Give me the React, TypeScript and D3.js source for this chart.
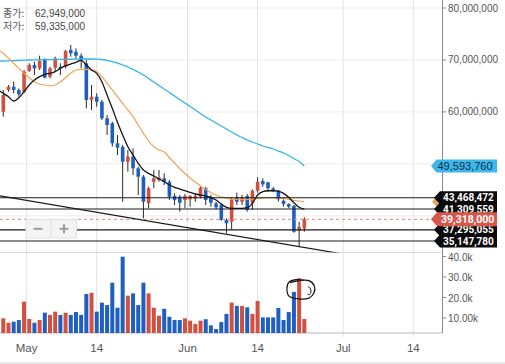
import React from "react";
import * as d3 from "d3";

// ---- data (prices in millions KRW, volume in thousands) ----
const candleStart = "2021-04-26T00:00:00Z";
const candleEnd = "2021-06-24T00:00:00Z";
const maStart = "2021-04-25T00:00:00Z";

const opens = [
  60.04, 64.22, 64.85, 64.22, 63.89, 67.87, 69.03, 68.39, 69.99, 66.78,
  68.51, 68.7, 68.7, 71.92, 71.59, 70.82, 69.36, 62.29, 62.93, 61.96,
  58.77, 57.81, 53.96, 53.3, 50.41, 51.38, 49.14, 47.53, 42.41, 46.56,
  46.89, 47.22, 46.56, 43.81, 43.68, 43.04, 43.18, 43.29, 43.68, 45.29,
  43.56, 42.41, 42.08, 39.19, 38.86, 43.56, 42.71, 43.81, 42.41, 44.83,
  46.7, 46.45, 45.26, 44.83, 42.91, 42.27, 41.94, 37.13, 37.59,
];
const highs = [
  64.22, 65.18, 65.81, 64.54, 68.07, 69.36, 69.66, 70.82, 70.32, 68.7,
  70.63, 69.36, 71.92, 72.88, 72.24, 71.28, 69.99, 65.18, 63.58, 62.29,
  59.4, 58.11, 55.55, 53.63, 52.67, 52.99, 49.45, 47.85, 45.6, 48.82,
  48.82, 48.18, 46.89, 44.33, 44.0, 44.2, 44.0, 44.2, 45.6, 45.6,
  44.0, 42.71, 42.41, 39.52, 43.56, 44.45, 44.0, 44.2, 45.1, 47.41,
  47.22, 46.56, 45.54, 44.97, 43.18, 42.41, 42.08, 38.86, 39.71,
];
const lows = [
  59.08, 63.89, 63.58, 62.93, 63.58, 67.74, 67.1, 68.07, 66.47, 66.47,
  67.74, 67.1, 68.39, 70.63, 70.18, 68.39, 60.69, 60.37, 61.0, 58.44,
  55.55, 53.3, 51.7, 42.71, 48.49, 47.85, 44.0, 39.52, 41.44, 45.29,
  46.56, 45.93, 43.04, 42.08, 40.79, 41.44, 41.75, 42.71, 43.37, 42.08,
  41.75, 41.25, 39.06, 36.63, 37.4, 42.08, 42.08, 40.79, 41.12, 44.45,
  45.6, 44.64, 44.58, 42.71, 41.75, 41.44, 36.75, 34.05, 36.94,
];
const closes = [
  63.25, 64.85, 64.22, 63.39, 67.74, 69.03, 68.39, 69.8, 66.58, 68.39,
  70.32, 68.39, 71.72, 71.28, 70.82, 69.99, 62.29, 62.93, 61.96, 58.77,
  57.48, 53.96, 53.11, 50.41, 51.38, 49.14, 47.53, 42.71, 45.29, 47.22,
  47.41, 46.56, 43.68, 43.04, 42.52, 43.81, 43.81, 43.81, 45.41, 43.04,
  42.52, 41.64, 39.19, 38.56, 43.18, 42.71, 43.56, 41.12, 44.83, 46.56,
  46.06, 45.29, 44.97, 43.18, 42.27, 41.75, 36.94, 37.9, 39.32,
];
const volumes = [
  9.85, 7.7, 8.2, 9.0, 17.95, 9.5, 7.7, 9.0, 12.6, 11.5,
  13.1, 11.5, 12.6, 11.5, 12.9, 11.5, 21.7, 22.3, 13.1, 17.5,
  16.3, 27.2, 15.0, 39.9, 20.9, 22.0, 16.3, 27.2, 22.0, 15.0,
  11.1, 14.5, 10.6, 9.0, 9.0, 9.85, 8.7, 7.1, 8.7, 9.4,
  6.4, 4.6, 8.0, 12.0, 17.5, 15.9, 15.9, 15.2, 12.0, 18.3,
  10.3, 10.3, 10.3, 14.9, 9.0, 12.9, 22.7, 29.4, 9.5,
];
// moving averages start one day earlier (Apr 25)
const maShort = [
  64.22,
  63.58, 62.93, 62.1, 62.73, 63.89, 65.18, 66.14, 66.78, 67.24, 67.43,
  67.74, 68.39, 68.89, 69.22, 69.55, 69.93, 69.03, 68.07, 67.43, 65.81,
  63.25, 60.69, 58.0, 55.55, 53.3, 51.7, 50.11, 48.82, 48.18, 47.66,
  47.08, 46.56, 45.93, 45.49, 45.16, 44.83, 44.52, 44.2, 44.0, 43.81,
  43.56, 43.04, 42.27, 41.64, 41.44, 41.44, 41.44, 41.56, 42.41, 44.0,
  44.64, 44.83, 44.83, 44.77, 44.33, 43.56, 42.52, 41.64, 41.31,
];
const maMid = [
  71.92,
  71.28, 70.32, 69.36, 68.39, 67.43, 66.58, 65.81, 65.37, 65.18, 65.04,
  65.18, 65.81, 66.58, 67.43, 68.07, 68.2, 68.2, 68.12, 67.74, 66.78,
  65.51, 64.22, 62.93, 61.66, 60.37, 59.08, 57.48, 55.88, 54.4, 53.3,
  52.67, 52.28, 51.22, 50.16, 49.11, 48.14, 47.28, 46.51, 45.74, 45.06,
  44.49, 44.0, 43.62, 43.43, 43.23, 43.14, 43.14, 43.14, 43.23, 43.33,
  43.43, 43.48, 43.48, 43.43, 43.33, 43.18, 42.98, 42.85, 42.71,
];
const maLong = [
  69.76,
  69.8, 69.84, 69.87, 69.91, 69.95, 69.99, 70.01, 70.03, 70.05, 70.07,
  70.09, 70.11, 70.13, 70.14, 70.16, 70.18, 70.18, 70.18, 70.16, 70.09,
  69.93, 69.7, 69.41, 69.03, 68.64, 68.16, 67.68, 67.1, 66.43, 65.76,
  65.08, 64.41, 63.73, 63.06, 62.39, 61.71, 61.04, 60.37, 59.69, 59.02,
  58.44, 57.86, 57.29, 56.71, 56.13, 55.55, 55.07, 54.59, 54.21, 53.82,
  53.44, 53.15, 52.86, 52.47, 52.09, 51.61, 51.03, 50.45, 49.59,
];
const maLongLabel = 49593760;
const levelLines = [43468472, 41309559, 37295055, 35147780];
const lastPrice = 39318000;
const trendPoints: [string, number][] = [
  ["2021-04-20T12:00:00Z", 44.77],
  ["2021-07-01T12:00:00Z", 32.55],
];
const priceGridTicks = [80, 70, 60, 50, 40];
const priceLabelTicks = [80, 70, 60]; // 50M / 40M labels sit under the price tags
const volumeTicks = [40, 30, 20, 10];
const volumeTickLabels = ["40.0k", "30.0k", "20.0k", "10.00k"];
const timeTicks: [string, string][] = [
  ["2021-05-01T00:00:00Z", "May"],
  ["2021-05-14T12:00:00Z", "14"],
  ["2021-06-01T00:00:00Z", "Jun"],
  ["2021-06-14T12:00:00Z", "14"],
  ["2021-07-01T00:00:00Z", "Jul"],
  ["2021-07-14T12:00:00Z", "14"],
];
const legendLabels = ["종가:", "저가:"];
const legendValues = [62949000, 59335000];
const annotationAnchor = { date: "2021-06-22T00:00:00Z", volume: 23.6 };

const RED = "#d2503f";
const BLUE = "#1f5fc2";
const fmt = d3.format(",");
const AXIS_FONT = "'Liberation Sans', Arial, sans-serif";

export default function App() {
  const W = 505;
  const H = 364;
  const plotR = 442.5;
  const mainB = 252.5;
  const volB = 333;

  const candleDates = d3.utcDay.range(new Date(candleStart), new Date(candleEnd));
  const maDates = d3.utcDay.range(new Date(maStart), new Date(candleEnd));

  const x = d3
    .scaleUtc()
    .domain([new Date("2021-05-01T00:00:00Z"), new Date("2021-07-01T00:00:00Z")])
    .range([26.65, 343.24]);
  const cx = (d: Date) => x(d3.utcHour.offset(d, 12));
  const y = d3.scaleLinear().domain([32.94, 81.54]).range([mainB, 0]);
  const yv = d3.scaleLinear().domain([2.68, 41.95]).range([volB, mainB]);

  const maLine = (vals: number[]) =>
    d3
      .line<number>()
      .x((_, i) => cx(maDates[i]))
      .y((v) => y(v))
      .curve(d3.curveMonotoneX)(vals) || "";

  const bodyW = 3.6;
  const volW = 4;

  const trendPath =
    d3
      .line<[string, number]>()
      .x((d) => x(new Date(d[0])))
      .y((d) => y(d[1]))(trendPoints) || "";

  const tag = (cy: number, tip: number, left: number, right: number, h: number) =>
    `M${tip},${cy} L${left},${cy - h / 2} L${right},${cy - h / 2} L${right},${cy + h / 2} L${left},${cy + h / 2} Z`;

  // hand-drawn annotation around a volume bar
  const ax = cx(new Date(annotationAnchor.date)) + 1.8;
  const ay = yv(annotationAnchor.volume);
  const loop: [number, number][] = [
    [-11, -7.5], [-2, -9.5], [8, -9.5], [13.5, -4], [13, 3], [8, 8],
    [-2, 8.8], [-12, 6], [-14, -1], [-12, -8], [-5, -10.5], [3, -10],
  ];
  const squiggle: [number, number][] = [
    [7, -3.5], [9.5, -1.5], [10, 2], [8.5, 4.5], [6.5, 4],
  ];
  const freehand = d3
    .line<[number, number]>()
    .x((d) => ax + d[0])
    .y((d) => ay + d[1])
    .curve(d3.curveCatmullRom.alpha(0.5));

  const orangeLast = maMid[maMid.length - 1] * 1e6;

  return (
    <svg
      width={W}
      height={H}
      style={{ position: "absolute", left: 0, top: 0, background: "#fff" }}
      fontFamily={AXIS_FONT}
    >
      <defs>
        <clipPath id="mainClip">
          <rect x={0} y={0} width={plotR} height={mainB} />
        </clipPath>
        <clipPath id="volClip">
          <rect x={0} y={mainB} width={plotR} height={volB - mainB} />
        </clipPath>
      </defs>
      <rect x={0} y={0} width={W} height={H} fill="#fff" />

      {/* grid */}
      {timeTicks.map(([d], i) => (
        <line key={"vg" + i} x1={x(new Date(d))} x2={x(new Date(d))} y1={0} y2={volB + 4} stroke="#e3e3e3" />
      ))}
      {priceGridTicks.map((p) => (
        <line key={"hg" + p} x1={0} x2={plotR} y1={y(p)} y2={y(p)} stroke="#ececec" />
      ))}
      <line x1={0} x2={plotR} y1={mainB} y2={mainB} stroke="#d8d8d8" />
      <line x1={0} x2={plotR} y1={volB} y2={volB} stroke="#b8b8b8" />

      <g clipPath="url(#mainClip)">
        {/* candles */}
        {candleDates.map((d, i) => {
          const up = closes[i] >= opens[i];
          const c = up ? RED : BLUE;
          const top = y(Math.max(opens[i], closes[i]));
          const bot = y(Math.min(opens[i], closes[i]));
          return (
            <g key={"c" + i}>
              <line x1={cx(d)} x2={cx(d)} y1={y(highs[i])} y2={y(lows[i])} stroke="#2a2a2a" strokeWidth={1} />
              <rect x={cx(d) - bodyW / 2} y={top} width={bodyW} height={Math.max(1, bot - top)} fill={c} />
            </g>
          );
        })}

        {/* moving averages */}
        <path d={maLine(maLong)} fill="none" stroke="#2cb7e6" strokeWidth={1.3} />
        <path d={maLine(maMid)} fill="none" stroke="#f0a352" strokeWidth={1.2} />
        <path d={maLine(maShort)} fill="none" stroke="#151515" strokeWidth={1.3} />

        {/* level lines */}
        {levelLines.map((p) => (
          <line key={"lv" + p} x1={0} x2={plotR} y1={y(p / 1e6)} y2={y(p / 1e6)} stroke="#1a1a1a" strokeWidth={1.1} />
        ))}
        <line
          x1={0}
          x2={plotR}
          y1={y(lastPrice / 1e6)}
          y2={y(lastPrice / 1e6)}
          stroke="#e08a80"
          strokeWidth={1}
          strokeDasharray="3,3"
        />
        <path d={trendPath} stroke="#1a1a1a" strokeWidth={1.2} fill="none" />
      </g>

      {/* zoom buttons */}
      <g>
        <rect x={26} y={219.5} width={50.5} height={18.5} fill="#f3f3f3" stroke="#e2e2e2" />
        <line x1={51} x2={51} y1={220} y2={237.5} stroke="#e2e2e2" />
        <line x1={33.5} x2={42.5} y1={228.8} y2={228.8} stroke="#9c9c9c" strokeWidth={2} />
        <line x1={59.5} x2={68.5} y1={228.8} y2={228.8} stroke="#9c9c9c" strokeWidth={2} />
        <line x1={64} x2={64} y1={224.3} y2={233.3} stroke="#9c9c9c" strokeWidth={2} />
      </g>

      {/* volume */}
      <g clipPath="url(#volClip)">
        {candleDates.map((d, i) => {
          const up = closes[i] >= opens[i];
          return (
            <rect
              key={"v" + i}
              x={cx(d) - volW / 2}
              y={yv(volumes[i])}
              width={volW}
              height={volB - yv(volumes[i])}
              fill={up ? RED : BLUE}
            />
          );
        })}
        <path d={freehand(loop) || ""} fill="none" stroke="#111" strokeWidth={1.2} />
        <path d={freehand(squiggle) || ""} fill="none" stroke="#111" strokeWidth={1} />
      </g>

      {/* right axis */}
      <line x1={plotR} x2={plotR} y1={0} y2={volB} stroke="#8a8a8a" />
      {priceGridTicks.map((p) => (
        <line key={"ptk" + p} x1={plotR} x2={plotR + 3.5} y1={y(p)} y2={y(p)} stroke="#8a8a8a" />
      ))}
      {priceLabelTicks.map((p) => (
        <text key={"pt" + p} x={448} y={y(p)} dy="0.35em" fontSize={10} fill="#555">
          {fmt(p * 1e6)}
        </text>
      ))}
      {volumeTicks.map((v, i) => (
        <g key={"vt" + v}>
          <line x1={plotR} x2={plotR + 3.5} y1={yv(v)} y2={yv(v)} stroke="#8a8a8a" />
          <text x={448} y={yv(v) + 1} dy="0.35em" fontSize={10} fill="#555">
            {volumeTickLabels[i]}
          </text>
        </g>
      ))}

      {/* price tags */}
      <path d={tag(y(orangeLast / 1e6), 432, 438, 497, 13)} fill="#f0a352" />
      <path d={tag(y(maLongLabel / 1e6), 431, 436.5, 497, 13)} fill="#3cb8ea" />
      <text x={437.5} y={y(maLongLabel / 1e6)} dy="0.36em" fontSize={11} fill="#0c2c4c">
        {fmt(maLongLabel)}
      </text>
      {levelLines.map((p) => (
        <g key={"tg" + p}>
          <path d={tag(y(p / 1e6), 434, 440, 497, 13)} fill="#0a0a0a" />
          <text
            x={443}
            y={y(p / 1e6)}
            dy="0.36em"
            fontSize={10}
            fontWeight={700}
            fontFamily="Roboto, sans-serif"
            fill="#fff"
          >
            {fmt(p)}
          </text>
        </g>
      ))}
      <path d={tag(y(lastPrice / 1e6), 431, 437, 497, 14)} fill="#d9574a" />
      <text
        x={441}
        y={y(lastPrice / 1e6)}
        dy="0.36em"
        fontSize={10.5}
        fontWeight={700}
        fontFamily="Roboto, sans-serif"
        fill="#fff"
      >
        {fmt(lastPrice)}
      </text>

      {/* time axis */}
      {timeTicks.map(([d, label], i) => (
        <text key={"tt" + i} x={x(new Date(d))} y={351.5} textAnchor="middle" fontSize={11.5} fill="#555">
          {label}
        </text>
      ))}
      <line x1={0} x2={W} y1={363} y2={363} stroke="#d0d0d0" />

      {/* legend */}
      {legendLabels.map((l, i) => (
        <g key={"lg" + i}>
          <text x={3} y={17 + i * 13.4} fontSize={10} fill="#555" fontFamily="'Noto Sans CJK KR', sans-serif">
            {l}
          </text>
          <text x={35} y={17 + i * 13.4} fontSize={10} fill="#444">
            {fmt(legendValues[i])}
          </text>
        </g>
      ))}
    </svg>
  );
}
